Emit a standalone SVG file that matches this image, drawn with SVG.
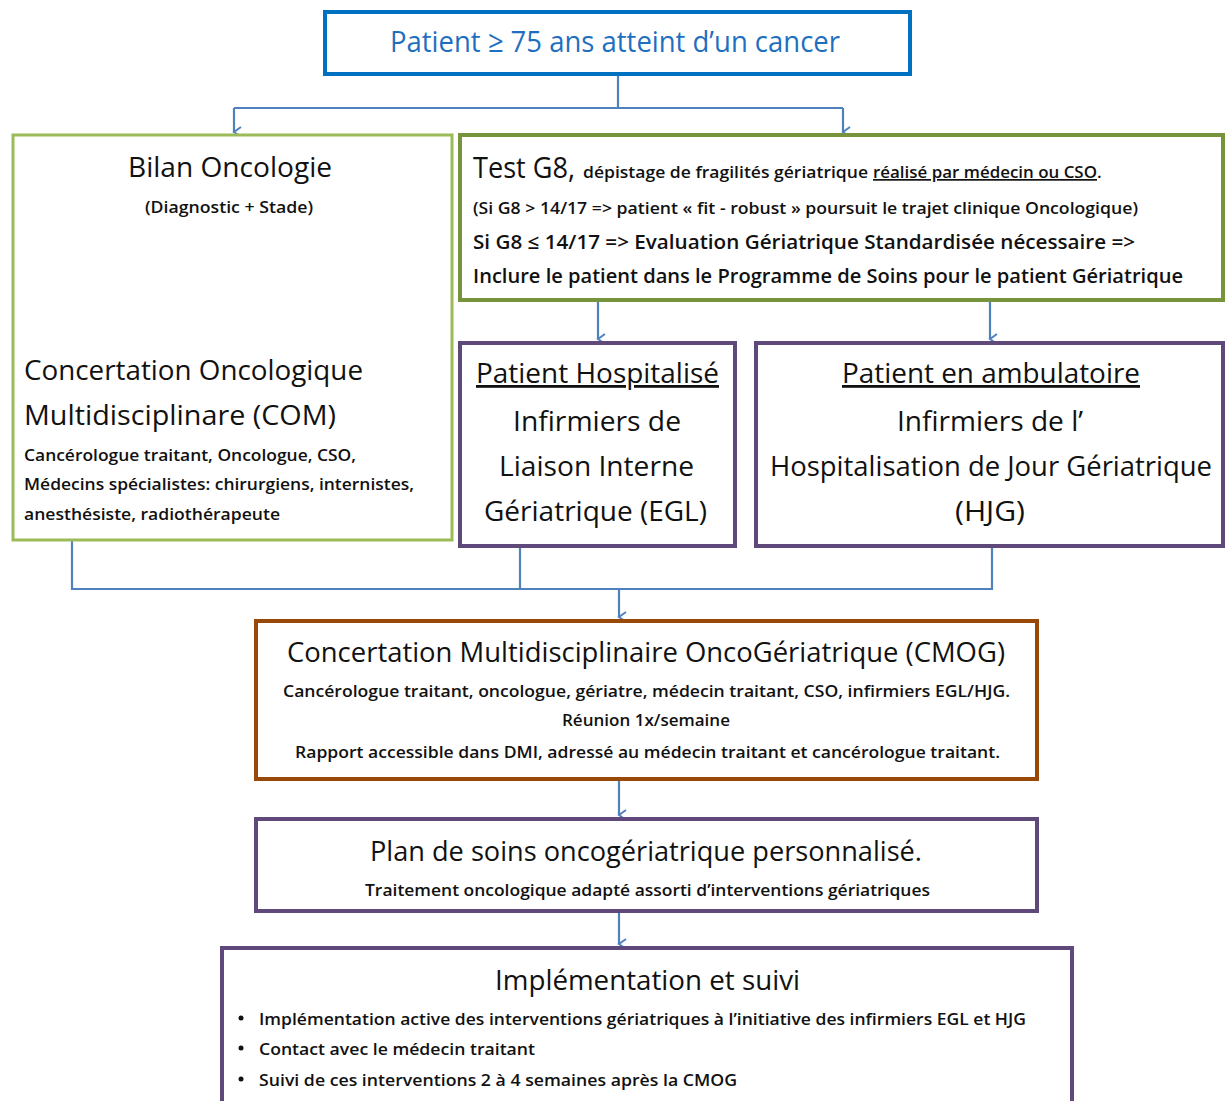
<svg xmlns="http://www.w3.org/2000/svg" width="1226" height="1101" viewBox="0 0 1226 1101">
<style>
text{font-family:"Open Sans","Liberation Sans",sans-serif;fill:#111;}
.t{font-size:28px;}
.s{font-size:17px;font-weight:600;}
.m{font-size:20px;font-weight:600;}
.c{text-anchor:middle;}
.box{fill:#fff;}
.conn{fill:none;stroke:#4F81BD;stroke-width:2.2;}
</style>
<defs>
<marker id="ah" markerWidth="12" markerHeight="12" refX="6" refY="10" orient="auto" markerUnits="userSpaceOnUse">
<path d="M1,3 L6,10 L11,3" fill="none" stroke="#4F81BD" stroke-width="2"/>
</marker>
</defs>
<rect width="1226" height="1101" fill="#fff"/>
<g id="connectors">
<path class="conn" d="M618,74 V108"/>
<path class="conn" d="M234,108 H843"/>
<path class="conn" d="M234,108 V132" marker-end="url(#ah)"/>
<path class="conn" d="M843,108 V132" marker-end="url(#ah)"/>
<path class="conn" d="M598,302 V339" marker-end="url(#ah)"/>
<path class="conn" d="M990,302 V339" marker-end="url(#ah)"/>
<path class="conn" d="M72,541 V589 H992 V548"/>
<path class="conn" d="M520,548 V589"/>
<path class="conn" d="M619,589 V617" marker-end="url(#ah)"/>
<path class="conn" d="M619,781 V815" marker-end="url(#ah)"/>
<path class="conn" d="M619,913 V944" marker-end="url(#ah)"/>
</g>
<g id="patient">
<rect class="box" x="325" y="12" width="585" height="62" stroke="#0070C0" stroke-width="4"/>
<text x="390" y="52" font-size="30" style="fill:#1F6FC0" textLength="450" lengthAdjust="spacingAndGlyphs">Patient ≥ 75 ans atteint d’un cancer</text>
</g>
<g id="bilan">
<rect class="box" x="13" y="135" width="439" height="405" stroke="#9BBB59" stroke-width="3"/>
<text class="t" x="128" y="177" textLength="204" lengthAdjust="spacingAndGlyphs">Bilan Oncologie</text>
<text x="145" y="213" font-size="16" font-weight="600" textLength="168" lengthAdjust="spacingAndGlyphs">(Diagnostic + Stade)</text>
<text class="t" x="24" y="380" textLength="339" lengthAdjust="spacingAndGlyphs">Concertation Oncologique</text>
<text class="t" x="24" y="425" textLength="312" lengthAdjust="spacingAndGlyphs">Multidisciplinare (COM)</text>
<text class="s" x="24" y="461" textLength="332" lengthAdjust="spacingAndGlyphs">Cancérologue traitant, Oncologue, CSO,</text>
<text class="s" x="24" y="490" textLength="390" lengthAdjust="spacingAndGlyphs">Médecins spécialistes: chirurgiens, internistes,</text>
<text class="s" x="24" y="520" textLength="256" lengthAdjust="spacingAndGlyphs">anesthésiste, radiothérapeute</text>
</g>
<g id="g8">
<rect class="box" x="460" y="135" width="763" height="165" stroke="#77933C" stroke-width="4"/>
<text x="473" y="178" font-size="30" textLength="102" lengthAdjust="spacingAndGlyphs">Test G8,</text>
<text class="s" x="583" y="178" textLength="285" lengthAdjust="spacingAndGlyphs">dépistage de fragilités gériatrique</text>
<text class="s" x="873" y="178" text-decoration="underline" textLength="224" lengthAdjust="spacingAndGlyphs">réalisé par médecin ou CSO</text>
<text class="s" x="1097" y="178">.</text>
<text class="s" x="473" y="214" textLength="665" lengthAdjust="spacingAndGlyphs">(Si G8 &gt; 14/17 =&gt; patient « fit - robust » poursuit le trajet clinique Oncologique)</text>
<text class="m" x="473" y="249" font-weight="700" textLength="662" lengthAdjust="spacingAndGlyphs">Si G8 ≤ 14/17 =&gt; Evaluation  Gériatrique Standardisée  nécessaire  =&gt;</text>
<text class="m" x="473" y="283" textLength="710" lengthAdjust="spacingAndGlyphs">Inclure le patient dans le Programme  de Soins pour le patient Gériatrique</text>
</g>
<g id="hospitalise">
<rect class="box" x="460" y="343" width="275" height="203" stroke="#5F497A" stroke-width="4"/>
<text class="t" x="476" y="383" text-decoration="underline" textLength="243" lengthAdjust="spacingAndGlyphs">Patient Hospitalisé</text>
<text class="t" x="513" y="431" textLength="168" lengthAdjust="spacingAndGlyphs">Infirmiers de</text>
<text class="t" x="499" y="476" textLength="195" lengthAdjust="spacingAndGlyphs">Liaison Interne</text>
<text class="t" x="484" y="521" textLength="223" lengthAdjust="spacingAndGlyphs">Gériatrique (EGL)</text>
</g>
<g id="ambulatoire">
<rect class="box" x="756" y="343" width="467" height="203" stroke="#5F497A" stroke-width="4"/>
<text class="t" x="842" y="383" text-decoration="underline" textLength="298" lengthAdjust="spacingAndGlyphs">Patient en ambulatoire</text>
<text class="t" x="897" y="431" textLength="186" lengthAdjust="spacingAndGlyphs">Infirmiers de l’</text>
<text class="t" x="770" y="476" textLength="442" lengthAdjust="spacingAndGlyphs">Hospitalisation de Jour Gériatrique</text>
<text class="t" x="955" y="521" textLength="70" lengthAdjust="spacingAndGlyphs">(HJG)</text>
</g>
<g id="cmog">
<rect class="box" x="256" y="621" width="781" height="158" stroke="#984807" stroke-width="4"/>
<text class="t" x="287" y="662" textLength="718" lengthAdjust="spacingAndGlyphs">Concertation Multidisciplinaire OncoGériatrique (CMOG)</text>
<text class="s" x="283" y="697" textLength="727" lengthAdjust="spacingAndGlyphs">Cancérologue traitant, oncologue, gériatre, médecin traitant, CSO, infirmiers EGL/HJG.</text>
<text class="s" x="562" y="726" textLength="168" lengthAdjust="spacingAndGlyphs">Réunion  1x/semaine</text>
<text class="s" x="295" y="758" textLength="705" lengthAdjust="spacingAndGlyphs">Rapport accessible  dans DMI, adressé au médecin traitant et cancérologue traitant.</text>
</g>
<g id="plan">
<rect class="box" x="256" y="819" width="781" height="92" stroke="#5F497A" stroke-width="4"/>
<text class="t" x="370" y="861" textLength="552" lengthAdjust="spacingAndGlyphs">Plan de soins oncogériatrique personnalisé.</text>
<text class="s" x="365" y="896" textLength="565" lengthAdjust="spacingAndGlyphs">Traitement oncologique adapté assorti d’interventions gériatriques</text>
</g>
<g id="implementation">
<rect class="box" x="222" y="948" width="850" height="160" stroke="#5F497A" stroke-width="4"/>
<text class="t" x="495" y="990" textLength="305" lengthAdjust="spacingAndGlyphs">Implémentation et suivi</text>
<circle cx="241" cy="1018" r="2.5" fill="#111"/>
<circle cx="241" cy="1048" r="2.5" fill="#111"/>
<circle cx="241" cy="1079" r="2.5" fill="#111"/>
<text class="s" x="259" y="1025" textLength="767" lengthAdjust="spacingAndGlyphs">Implémentation active des interventions gériatriques à l’initiative des infirmiers EGL et HJG</text>
<text class="s" x="259" y="1055" textLength="276" lengthAdjust="spacingAndGlyphs">Contact avec le médecin traitant</text>
<text class="s" x="259" y="1086" textLength="478" lengthAdjust="spacingAndGlyphs">Suivi de ces interventions 2 à 4 semaines après la CMOG</text>
</g>
</svg>
